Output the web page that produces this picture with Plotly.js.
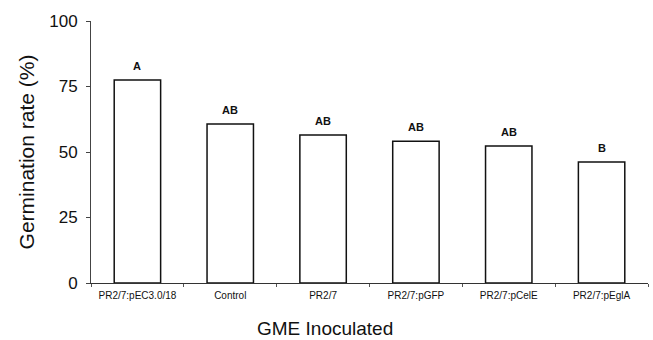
<!DOCTYPE html>
<html><head><meta charset="utf-8">
<script src="https://cdn.plot.ly/plotly-3.0.1.min.js"></script>
<style>html,body{margin:0;padding:0;background:#fff}#chart{width:653px;height:340px}</style>
</head><body><div id="chart"></div>
<script>
const categories = ["PR2/7:pEC3.0/18", "Control", "PR2/7", "PR2/7:pGFP", "PR2/7:pCelE", "PR2/7:pEglA"];
const germinationRate = [77.5, 60.7, 56.5, 54.1, 52.3, 46.2];
const groupLetters = ["A", "AB", "AB", "AB", "AB", "B"];
const yTicks = [0, 25, 50, 75, 100];

const font = "Liberation Sans, Arial, sans-serif";
const trace = {
  type: "bar", x: categories, y: germinationRate,
  marker: {color: "#ffffff", line: {color: "#111111", width: 1.5}},
  hoverinfo: "none"
};
const annotations = categories.map((c, i) => ({
  x: c, y: germinationRate[i], xref: "x", yref: "y",
  text: "<b>" + groupLetters[i] + "</b>", showarrow: false,
  yanchor: "bottom", yshift: 6, font: {family: font, size: 11, color: "#111"}
}));
annotations.push({
  x: 0.42, y: 0, xref: "paper", yref: "paper", yanchor: "top", yshift: -33,
  text: "GME Inoculated", showarrow: false,
  font: {family: font, size: 19, color: "#111"}
});
const layout = {
  width: 653, height: 340,
  margin: {l: 91, r: 5, t: 21, b: 57},
  paper_bgcolor: "#fff", plot_bgcolor: "#fff",
  showlegend: false, bargap: 0.5,
  font: {family: font, color: "#111"},
  xaxis: {
    type: "category", range: [-0.5, 5.5],
    showline: true, linecolor: "#333", linewidth: 1,
    ticks: "outside", tickson: "boundaries", ticklen: 3, tickcolor: "#555",
    ticklabelstandoff: 3,
    tickfont: {size: 10, family: font, color: "#111"},
    showgrid: false, zeroline: false
  },
  yaxis: {
    range: [0, 100], tickvals: yTicks, ticktext: yTicks.map(String),
    showline: true, linecolor: "#444", linewidth: 1,
    ticks: "outside", ticklen: 4, tickcolor: "#444",
    ticklabelstandoff: 5,
    tickfont: {size: 17, family: font, color: "#111"},
    title: {text: "Germination rate (%)", font: {size: 21, family: font, color: "#111"}, standoff: 8},
    showgrid: false, zeroline: false
  },
  annotations: annotations
};
Plotly.newPlot("chart", [trace], layout, {staticPlot: true, displayModeBar: false});
</script></body></html>
